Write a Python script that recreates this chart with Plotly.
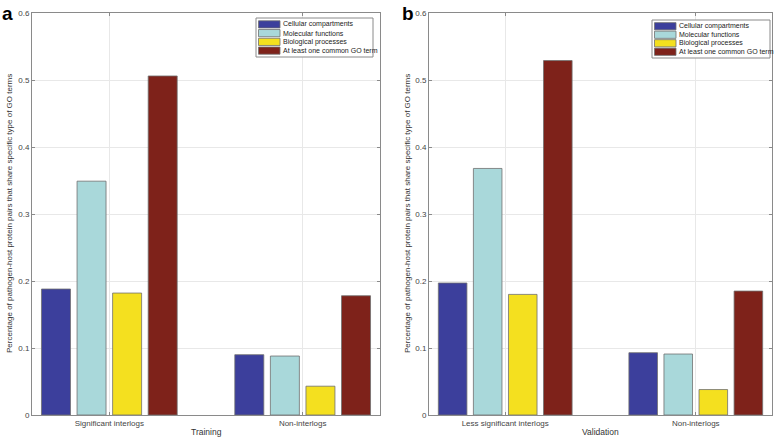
import plotly.graph_objects as go
from plotly.subplots import make_subplots

series_names = ["Cellular compartments", "Molecular functions", "Biological processes", "At least one common GO term"]
colors = ["#3c3f9c", "#a9d8da", "#f4e01f", "#7e221a"]

train_cats = ["Significant interlogs", "Non-interlogs"]
train_vals = [
    [0.188, 0.090],
    [0.349, 0.088],
    [0.182, 0.043],
    [0.506, 0.178],
]
val_cats = ["Less significant interlogs", "Non-interlogs"]
val_vals = [
    [0.197, 0.093],
    [0.368, 0.091],
    [0.180, 0.038],
    [0.529, 0.185],
]
y_ticks = [0, 0.1, 0.2, 0.3, 0.4, 0.5, 0.6]
ytitle = "Percentage of pathogen-host protein pairs that share specific type of GO terms"
xtitles = ["Training", "Validation"]

fig = make_subplots(rows=1, cols=2)
FONT = "Liberation Sans, Arial, sans-serif"
EDGE = "#707070"

for i, name in enumerate(series_names):
    fig.add_trace(go.Bar(x=train_cats, y=train_vals[i], name=name, marker_color=colors[i],
                         marker_line_color=EDGE, marker_line_width=0.8,
                         showlegend=False, offsetgroup=str(i)), row=1, col=1)
for i, name in enumerate(series_names):
    fig.add_trace(go.Bar(x=val_cats, y=val_vals[i], name=name, marker_color=colors[i],
                         marker_line_color=EDGE, marker_line_width=0.8,
                         showlegend=False, offsetgroup=str(i)), row=1, col=2)

W, H = 778, 439
def dx(p): return p / W
def dy(p): return 1 - p / H

axis_common = dict(showline=True, linecolor="#8a8a8a", linewidth=1, mirror="ticks",
                   ticks="inside", ticklen=3, tickcolor="#8a8a8a", automargin=False,
                   showgrid=True, gridcolor="#e8e8e8", gridwidth=1,
                   tickfont=dict(size=8, color="#444", family=FONT), zeroline=False)

ydom = [(H - 415) / H, dy(13)]
yticktext = [("0" if v == 0 else f"{v:.1f}") for v in y_ticks]
fig.update_layout(
    width=W, height=H, margin=dict(l=0, r=0, t=0, b=0),
    plot_bgcolor="white", paper_bgcolor="white",
    barmode="group", bargap=0.264, bargroupgap=0.185,
    font=dict(family=FONT, size=8, color="#333"),
    xaxis=dict(domain=[dx(32), dx(380)], range=[-0.4, 1.4], **axis_common),
    xaxis2=dict(domain=[dx(429), dx(772)], range=[-0.4, 1.4], **axis_common),
    yaxis=dict(domain=ydom, range=[0, 0.6], tickvals=y_ticks, ticktext=yticktext, **axis_common),
    yaxis2=dict(domain=ydom, range=[0, 0.6], tickvals=y_ticks, ticktext=yticktext, **axis_common),
)

# axis titles
for xc, t in zip([206, 600], xtitles):
    fig.add_annotation(text=t, x=dx(xc), y=dy(432), xref="paper", yref="paper",
                       xanchor="center", yanchor="middle", showarrow=False,
                       font=dict(size=8.5, color="#333", family=FONT))
for xc in [10, 408]:
    fig.add_annotation(text=ytitle, x=dx(xc), y=dy(214), xref="paper", yref="paper",
                       xanchor="center", yanchor="middle", showarrow=False, textangle=-90,
                       font=dict(size=8, color="#333", family=FONT))

# legends drawn as boxes
def add_legend(x0, y0, x1, y1):
    fig.add_shape(type="rect", xref="paper", yref="paper", x0=dx(x0), x1=dx(x1), y0=dy(y1), y1=dy(y0),
                  line=dict(color="#8a8a8a", width=1), fillcolor="white", layer="above")
    rowh = (y1 - y0 - 4) / 4
    for i, name in enumerate(series_names):
        yc = y0 + 2 + rowh * (i + 0.5)
        fig.add_shape(type="rect", xref="paper", yref="paper", x0=dx(x0 + 2.5), x1=dx(x0 + 24),
                      y0=dy(yc + 3.6), y1=dy(yc - 3.6), fillcolor=colors[i],
                      line=dict(color=EDGE, width=0.8), layer="above")
        fig.add_annotation(text=name, x=dx(x0 + 25), y=dy(yc), xref="paper", yref="paper",
                           xanchor="left", yanchor="middle", showarrow=False,
                           font=dict(size=7, color="#222", family=FONT))

add_legend(256, 18, 373, 57)
add_legend(652, 20, 770, 58)

fig.add_annotation(text="<b>a</b>", x=0, y=dy(1), xref="paper", yref="paper",
                   xanchor="left", yanchor="top", showarrow=False,
                   font=dict(size=19, color="black", family=FONT))
fig.add_annotation(text="<b>b</b>", x=dx(400), y=dy(1), xref="paper", yref="paper",
                   xanchor="left", yanchor="top", showarrow=False,
                   font=dict(size=19, color="black", family=FONT))

fig.write_html("out.html", config={"displayModeBar": False},
               post_script="document.body.style.margin='0';document.body.style.overflow='hidden';")
